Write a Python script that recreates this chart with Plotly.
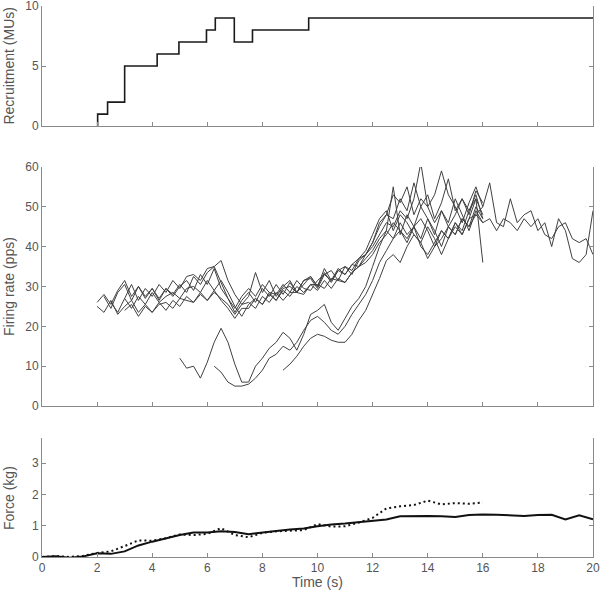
import numpy as np
from plotly.graph_objects import Figure, Scatter

# recruitment (number of active motor units), step plot
recruit_time = [2.0, 2.02, 2.38, 3.0, 4.18, 4.97, 5.97, 6.29, 6.98, 7.64, 9.68, 20.0]
recruit_count = [0, 1, 2, 5, 6, 7, 8, 9, 7, 8, 9, 9]

# firing rates (pps), sampled every 0.25 s from each unit's start time
rate_step = 0.25

mu1_start = 2.0
mu1_rate = [26, 28, 25.5, 29, 31.5, 27.5, 30, 27, 29.5, 26.5, 29.5, 27.5, 30, 31.5, 29, 33,
            30.5, 34.5, 29.5, 27, 23.5, 26.5, 28.5, 26, 29.5, 27.5, 30.5, 28, 31, 28.5,
            31.5, 32.5, 30, 33.5, 31, 34, 33, 35.5, 35, 38, 40, 43, 46, 45, 49, 47, 52,
            61, 50, 46, 49, 45, 48, 52, 49, 53, 47]

mu2_start = 2.0
mu2_rate = [25, 23.5, 26.5, 23, 25, 26.5, 23.5, 25.5, 23.5, 26, 24, 26.5, 25, 27.5, 26,
            28.5, 26.5, 29, 26.5, 24.5, 22, 24.5, 24.5, 27, 25.5, 28, 26.5, 29, 27.5, 30,
            28.5, 30.5, 30.5, 29.5, 32, 31.5, 31, 33.5, 35, 37, 39, 42, 44, 42, 46, 43,
            45, 47, 44, 40, 42, 45, 43, 47, 45, 48, 50]

mu3_start = 2.25
mu3_rate = [27.5, 24.5, 28.5, 30.5, 26.5, 30, 27.5, 29.5, 27, 29.5, 28, 30.5, 28.5, 32.5,
            30.5, 33.5, 35, 36.5, 31.5, 28, 25.5, 27.5, 33.5, 28.5, 31.5, 27.5, 30,
            31.5, 28.5, 30.5, 32.5, 30, 34.5, 31.5, 34, 35, 33, 36.5, 38, 41, 45, 48, 47,
            52, 49, 56, 50, 53, 47, 51, 57, 49, 52, 48, 54, 51]

mu4_start = 2.5
mu4_rate = [26, 23.5, 27, 24.5, 27.5, 25.5, 28.5, 26, 27.5, 28.5, 27, 29.5, 30, 28.5, 31.5,
            29, 31.5, 28.5, 25, 22.5, 25.5, 27, 25.5, 28.5, 26.5, 29.5, 30, 28.5, 31.5,
            32, 29.5, 33, 34, 31.5, 35, 34, 37, 39, 43, 47, 49, 44, 48, 46, 43, 41, 37,
            40, 44, 42, 46, 43, 47, 52, 36]

mu5_start = 3.0
mu5_rate = [27, 30.5, 26.5, 29.5, 27.5, 30.5, 28.5, 31.5, 29.5, 32.5, 33, 31.5, 34.5, 35,
            31, 27, 24.5, 27.5, 29.5, 27.5, 30.5, 28.5, 28, 30.5, 28.5, 31.5, 29.5, 29,
            31.5, 33, 31.5, 34.5, 33, 35.5, 37, 38, 41, 46, 48, 53, 51, 55, 48, 52, 50, 53,
            59, 53, 50, 46, 51, 55,
            50, 56, 46, 45, 52, 46, 48, 49, 44, 46, 40, 47, 44, 37, 36, 38, 49]

mu6_start = 3.0
mu6_rate = [24, 25.5, 22.5, 25, 23.5, 25.5, 26, 24.5, 27, 26.5, 26, 28, 26.5, 28.5, 27, 25.5,
            23, 25.5, 26, 24.5, 27.5, 26, 28.5, 26.5, 28.5, 28.5, 28, 30.5, 29, 31.5, 29.5,
            32, 31, 33.5, 35, 36, 38, 41, 43, 46, 44, 42, 45, 40, 38, 41, 44, 42, 45, 43,
            47, 48,
            46, 47, 44, 47, 46, 44, 47, 45, 47, 43, 42, 45, 46, 42, 41, 42, 38]

mu7_start = 5.0
mu7_rate = [12, 9.5, 10, 7, 11, 16, 19.5, 16, 10.5, 6, 6, 10, 12, 14.5, 16, 18.5, 17, 14,
            18, 23, 24, 25.5, 21, 19, 22, 25, 27, 30, 35, 40, 44, 55, 43, 48, 45, 50,
            47, 43, 49, 46, 52, 48, 44, 49, 46]

mu8_start = 6.25
mu8_rate = [10, 8.5, 6, 5, 5, 5.5, 7, 9, 12, 13, 15, 14, 16, 19, 21.5, 22.5, 21, 19, 18,
            20, 23, 25.5, 28, 31.5, 36, 39, 42, 44, 41, 45, 42, 47, 44, 40, 45, 43, 47,
            45, 50, 47]

mu9_start = 8.75
mu9_rate = [9, 10.5, 12.5, 15, 17, 18, 17.5, 16.5, 16, 16, 18, 21.5, 24, 28, 32, 36.5,
            38, 36, 40, 43, 41, 45, 42, 38, 42, 46, 44, 49, 52, 48]

# force (kg), sampled every 0.5 s
force_step = 0.5
force_measured = [0.0, 0.02, -0.02, 0.02, 0.12, 0.1, 0.18, 0.37, 0.49, 0.6, 0.7, 0.78,
                  0.78, 0.82, 0.8, 0.73, 0.77, 0.83, 0.88, 0.91, 0.98, 1.04, 1.07, 1.12,
                  1.17, 1.2, 1.3, 1.31, 1.31, 1.3, 1.28, 1.34, 1.36, 1.35, 1.33, 1.31,
                  1.34, 1.35, 1.2, 1.33, 1.2]
force_estimated = [0.0, 0.03, 0.0, 0.04, 0.13, 0.18, 0.35, 0.53, 0.52, 0.6, 0.72, 0.7,
                   0.74, 0.92, 0.7, 0.63, 0.77, 0.82, 0.84, 0.86, 1.05, 0.97, 0.98, 1.1,
                   1.25, 1.55, 1.62, 1.66, 1.8, 1.68, 1.72, 1.7, 1.74]

units = [
    (mu1_start, mu1_rate), (mu2_start, mu2_rate), (mu3_start, mu3_rate),
    (mu4_start, mu4_rate), (mu5_start, mu5_rate), (mu6_start, mu6_rate),
    (mu7_start, mu7_rate), (mu8_start, mu8_rate), (mu9_start, mu9_rate),
]

axis_color = "#8a8a8a"
text_color = "#555555"

top_domain = [0.782, 1.0]
mid_domain = [0.274, 0.708]
low_domain = [0, 0.216]


def x_axis(anchor, labels):
    return dict(
        range=[0, 20], tick0=0, dtick=2, ticks="inside", ticklen=4,
        tickcolor=axis_color, showline=True, linecolor=axis_color, linewidth=1,
        showgrid=False, zeroline=False, showticklabels=labels, anchor=anchor,
        domain=[0, 1], automargin=False, ticklabeloverflow="allow",
    )


def y_axis(anchor, domain, top, dtick):
    return dict(
        range=[0, top], tick0=0, dtick=dtick, ticks="inside", ticklen=4,
        tickcolor=axis_color, showline=True, linecolor=axis_color, linewidth=1,
        mirror="ticks", showgrid=False, zeroline=False, anchor=anchor,
        domain=domain, automargin=False, ticklabeloverflow="allow",
    )


def side_title(text, domain):
    return dict(
        text=text, xref="paper", yref="paper", x=-0.059, y=sum(domain) / 2,
        textangle=-90, showarrow=False, xanchor="center", yanchor="middle",
        font=dict(size=14, color=text_color),
    )


figure = Figure()

figure.add_trace(Scatter(
    x=recruit_time, y=recruit_count, mode="lines", line_shape="hv",
    line=dict(color="#1a1a1a", width=1.6), xaxis="x3", yaxis="y3",
))

for start, rate in units:
    t = start + rate_step * np.arange(len(rate))
    figure.add_trace(Scatter(
        x=t, y=rate, mode="lines", line=dict(color="#404040", width=1),
        xaxis="x2", yaxis="y2",
    ))

figure.add_trace(Scatter(
    x=force_step * np.arange(len(force_measured)), y=force_measured, mode="lines",
    line=dict(color="#111111", width=2), xaxis="x", yaxis="y",
))
figure.add_trace(Scatter(
    x=force_step * np.arange(len(force_estimated)), y=force_estimated, mode="lines",
    line=dict(color="#111111", width=2, dash="2px,3px"), xaxis="x", yaxis="y",
))

figure.update_layout(
    width=600, height=600, showlegend=False, hovermode=False,
    plot_bgcolor="white", paper_bgcolor="white",
    margin=dict(l=42, r=7, t=6, b=43),
    font=dict(family="Liberation Sans, Arial, sans-serif", size=12, color=text_color),
    xaxis=x_axis("y", True),
    xaxis2=x_axis("y2", False),
    xaxis3=x_axis("y3", False),
    yaxis=y_axis("x", low_domain, 3.8, 1),
    yaxis2=y_axis("x2", mid_domain, 60, 10),
    yaxis3=y_axis("x3", top_domain, 10, 5),
    annotations=[
        side_title("Recruitment (MUs)", top_domain),
        side_title("Firing rate (pps)", mid_domain),
        side_title("Force (kg)", low_domain),
        dict(text="Time (s)", xref="paper", yref="paper", x=0.5, y=-0.045,
             showarrow=False, xanchor="center", yanchor="middle",
             font=dict(size=14, color=text_color)),
    ],
)

# the page body has a default 8px margin; drop it so the figure sits at the corner
figure.write_html(
    "out.html",
    config={"displayModeBar": False},
    post_script="document.body.style.margin = '0';",
)
